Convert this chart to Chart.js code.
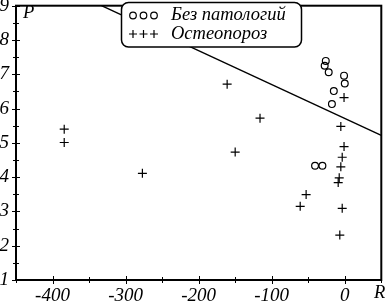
<!DOCTYPE html>
<html><head><meta charset="utf-8">
<script src="https://cdn.jsdelivr.net/npm/chart.js@4/dist/chart.umd.min.js"></script>
<style>html,body{margin:0;padding:0;background:#fff;overflow:hidden}</style>
</head><body><canvas id="c" width="387" height="302"></canvas>
<script>
// Data
const normalR = [-26, -27.5, -22, -1, 0, -15, -17.6, -40.7, -30.6];
const normalP = [7.39, 7.25, 7.06, 6.96, 6.73, 6.51, 6.13, 4.33, 4.33];
const osteoR = [-384, -384, -161, -116, -150, -277, -1, -5.4, -1, -3.5, -5.4, -7.6, -9, -52.9, -61, -3.5, -6.8];
const osteoP = [5.40, 5.01, 6.71, 5.72, 4.73, 4.11, 6.32, 5.48, 4.89, 4.58, 4.30, 3.98, 3.84, 3.49, 3.15, 3.09, 2.31];
const boundR = [-333, 50];
const boundP = [9, 5.22];
const xTicks = [-400, -300, -200, -100, 0];
const yTicks = [1, 2, 3, 4, 5, 6, 7, 8, 9];
const seriesNames = ['Без патологий', 'Остеопороз'];
const axisNames = ['R', 'P'];

const toPts = (xs, ys) => xs.map((x, i) => ({x: x, y: ys[i]}));
const FAMILY = '"Liberation Serif", "Times New Roman", Times, "DejaVu Serif", serif';
const FONT = 'italic 18.5px ' + FAMILY;

const decor = {
  id: 'decor',
  beforeDatasetsDraw(chart) {
    const ctx = chart.ctx, a = chart.chartArea;
    const xs = chart.scales.x, ys = chart.scales.y;
    ctx.save();
    ctx.strokeStyle = '#000';
    ctx.lineWidth = 1;
    const xStep = (xTicks[1] - xTicks[0]) / 2;
    for (let v = xs.min; v <= xs.max + 1e-9; v += xStep) {
      const px = Math.round(xs.getPixelForValue(v)) + 0.5;
      const major = xTicks.includes(v);
      ctx.beginPath();
      ctx.moveTo(px, a.bottom - (major ? 4 : 3));
      ctx.lineTo(px, a.bottom + (major ? 4 : 3));
      ctx.stroke();
    }
    const yStep = (yTicks[1] - yTicks[0]) / 2;
    for (let v = ys.min; v <= ys.max + 1e-9; v += yStep) {
      const py = Math.round(ys.getPixelForValue(v)) + 0.5;
      const major = yTicks.includes(v);
      ctx.beginPath();
      ctx.moveTo(a.left - (major ? 4 : 3), py);
      ctx.lineTo(a.left + (major ? 4 : 3), py);
      ctx.stroke();
    }
    ctx.restore();
  },
  afterDatasetsDraw(chart) {
    const ctx = chart.ctx, a = chart.chartArea;
    ctx.save();
    ctx.strokeStyle = '#000';
    ctx.lineWidth = 2;
    ctx.strokeRect(a.left, a.top, a.right - a.left, a.bottom - a.top);
    const bx = 121.5, by = 2.5, bw = 180, bh = 44.5, r = 7;
    ctx.beginPath();
    ctx.roundRect(bx, by, bw, bh, r);
    ctx.fillStyle = '#fff';
    ctx.fill();
    ctx.lineWidth = 1.5;
    ctx.stroke();
    ctx.lineWidth = 1.2;
    [133, 143.5, 154].forEach(cx => {
      ctx.beginPath();
      ctx.arc(cx, 15.5, 3.3, 0, Math.PI * 2);
      ctx.stroke();
      ctx.beginPath();
      ctx.moveTo(cx - 4, 34); ctx.lineTo(cx + 4, 34);
      ctx.moveTo(cx, 30); ctx.lineTo(cx, 38);
      ctx.stroke();
    });
    ctx.fillStyle = '#000';
    ctx.font = FONT;
    ctx.textBaseline = 'middle';
    ctx.textAlign = 'left';
    ctx.fillText(seriesNames[0], 171, 15.5);
    ctx.fillText(seriesNames[1], 171, 34);
    ctx.fillText(axisNames[1], 23, 13);
    ctx.fillText(axisNames[0], 374, 293);
    ctx.restore();
  }
};

new Chart(document.getElementById('c'), {
  type: 'scatter',
  data: {
    datasets: [
      {
        type: 'line', data: toPts(boundR, boundP), borderColor: '#000', borderWidth: 1.4,
        pointRadius: 0, fill: false, tension: 0
      },
      {
        label: seriesNames[0], data: toPts(normalR, normalP), pointStyle: 'circle',
        pointRadius: 3.4, borderColor: '#000', backgroundColor: 'rgba(255,255,255,0)', borderWidth: 1.2
      },
      {
        label: seriesNames[1], data: toPts(osteoR, osteoP), pointStyle: 'cross',
        pointRadius: 4.5, borderColor: '#000', borderWidth: 1.2
      }
    ]
  },
  options: {
    responsive: false,
    devicePixelRatio: 1,
    animation: false,
    layout: {padding: {top: 1, right: 2.5, left: 0, bottom: 0}},
    plugins: {legend: {display: false}, tooltip: {enabled: false}},
    scales: {
      x: {
        type: 'linear', min: -450, max: 50,
        afterBuildTicks: s => { s.ticks = xTicks.map(v => ({value: v})); },
        afterFit: s => { s.height = 22; s.paddingLeft = 0; s.paddingRight = 0; },
        grid: {display: false, drawTicks: false},
        border: {display: false},
        ticks: {color: '#000', padding: 5, font: {family: FAMILY, style: 'italic', size: 19},
          maxRotation: 0, autoSkip: false}
      },
      y: {
        type: 'linear', min: 1, max: 9,
        afterBuildTicks: s => { s.ticks = yTicks.map(v => ({value: v})); },
        afterFit: s => { s.width = 16; s.paddingTop = 0; s.paddingBottom = 0; },
        grid: {display: false, drawTicks: false},
        border: {display: false},
        ticks: {color: '#000', padding: 7, font: {family: FAMILY, style: 'italic', size: 19},
          autoSkip: false}
      }
    }
  },
  plugins: [decor]
});
</script>
</body></html>
